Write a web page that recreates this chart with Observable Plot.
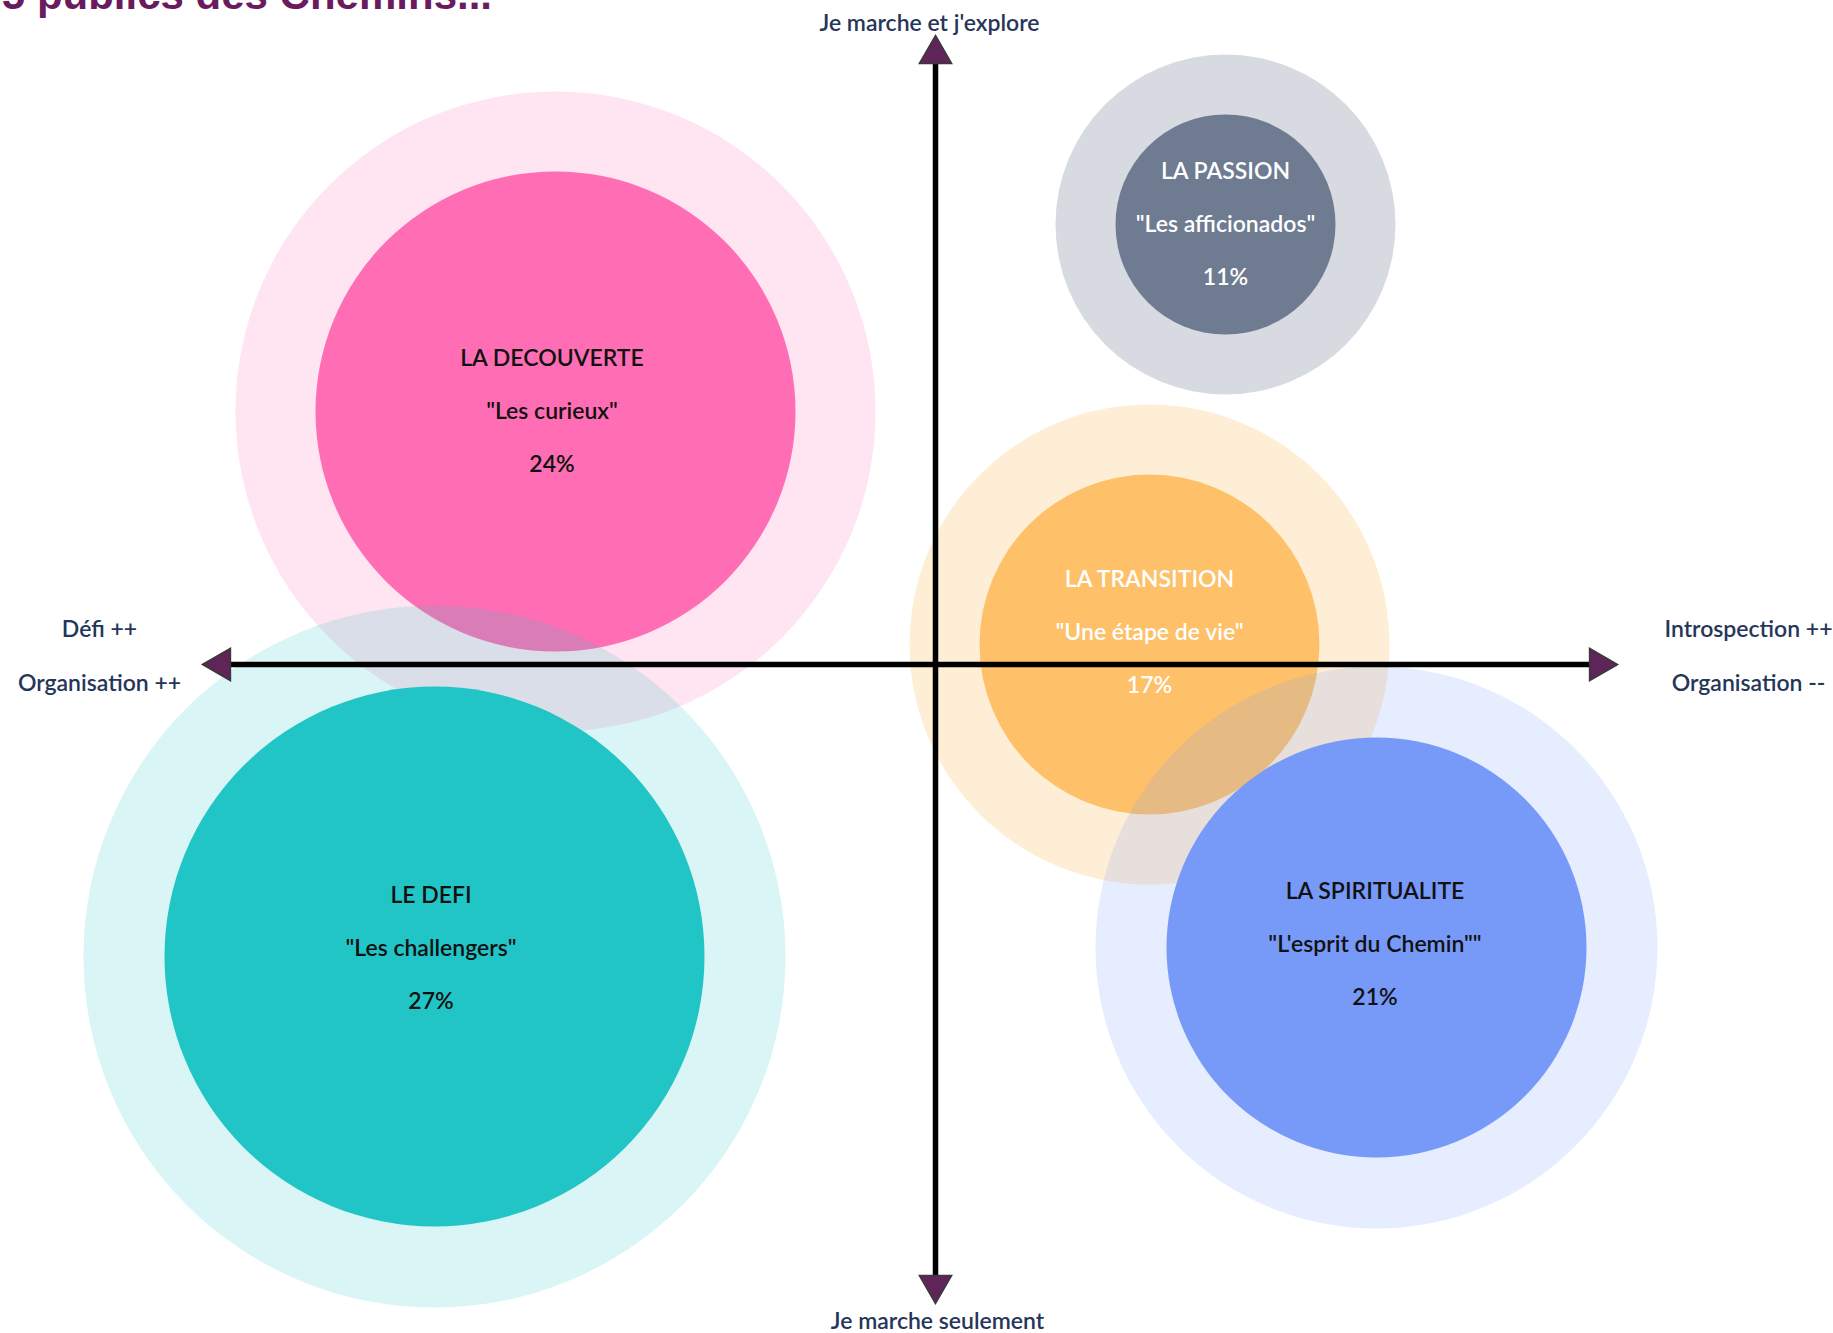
<!DOCTYPE html>
<html>
<head>
<meta charset="utf-8">
<script src="https://cdn.jsdelivr.net/npm/d3@7"></script>
<script src="https://cdn.jsdelivr.net/npm/@observablehq/plot@0.6"></script>
<style>
  html, body { margin: 0; padding: 0; background: #fff; overflow: hidden; }
  #wrap { position: relative; width: 1833px; height: 1333px; overflow: hidden; }
  #title { position: absolute; top: -26px; right: 1341px; white-space: nowrap;
           font: bold 42px "Liberation Sans", Arial, sans-serif; line-height: 42px; color: #6a1b5e; }
</style>
</head>
<body>
<div id="wrap">
  <div id="chart"></div>
  <div id="title">Les 5 publics des Chemins...</div>
</div>
<script>
// ---- data ----
const segments  = ["LA DECOUVERTE", "LE DEFI", "LA PASSION", "LA TRANSITION", "LA SPIRITUALITE"];
const nicknames = ['"Les curieux"', '"Les challengers"', '"Les afficionados"', '"Une étape de vie"', '"L\'esprit du Chemin""'];
const shares    = [24, 27, 11, 17, 21];          // % of walkers (inner bubble)
const halo      = [32, 35.1, 17, 24, 28.1];      // outer halo extent
const xScore    = [-38.0, -50.1, 29.0, 21.4, 44.1]; // Défi (−) … Introspection (+)
const yScore    = [25.3, -29.2, 44.0, 2.0, -28.3];  // Je marche seulement (−) … j'explore (+)
const xAxisEnds = [-73.3, 68.2];
const yAxisEnds = [-63.9, 62.9];
const leftLabels  = ["Défi ++", "Organisation ++"];
const rightLabels = ["Introspection ++", "Organisation --"];
const topLabel    = "Je marche et j'explore";
const bottomLabel = "Je marche seulement";

// ---- styles ----
const colors      = ["#ff6eb4", "#22c5c5", "#6e7b91", "#fec16a", "#7799f8"];
const haloOpacity = [0.19, 0.17, 0.28, 0.28, 0.18];
const textColors  = ["#111111", "#111111", "#ffffff", "#ffffff", "#111111"];
const labelDx     = [-3.5, -3.5, 0, 0, -1.5];
const labelDy     = [0, -8, 0, -12, -3];
const navy = "#26365a";
const arrowFill = "#5f2458";

const rows = segments.map((s, i) => ({name: s, nick: nicknames[i], pct: shares[i] + "%", x: xScore[i], y: yScore[i], tc: textColors[i], dx: labelDx[i], dy: labelDy[i]}));
const layers = segments.flatMap((s, i) => [
  {x: xScore[i], y: yScore[i], r: halo[i],   c: colors[i], o: haloOpacity[i]},
  {x: xScore[i], y: yScore[i], r: shares[i], c: colors[i], o: 1}
]);

const txt = {fontFamily: "Lato", fontSize: 23, fontWeight: 600};
const lineMarks = (key, off) => rows.map(d =>
  Plot.text([d], {x: "x", y: "y", text: key, dx: d.dx, dy: d.dy + off, fill: "tc", ...txt}));

const chart = Plot.plot({
  width: 1833, height: 1333,
  margin: 0,
  x: {domain: [-93.5, 89.8], axis: null},
  y: {domain: [-66.9, 66.4], axis: null},
  r: {type: "linear", domain: [0, 10], range: [0, 100]},
  opacity: {type: "identity"},
  color: {type: "identity"},
  style: {background: "white", fontFamily: "Lato"},
  marks: [
    Plot.dot(layers, {x: "x", y: "y", r: "r", fill: "c", fillOpacity: "o", sort: null}),
    ...lineMarks("name", -53),
    ...lineMarks("nick", 0),
    ...lineMarks("pct", 53),
    // axes
    Plot.ruleY([0], {x1: xAxisEnds[0], x2: xAxisEnds[1], stroke: "#000", strokeWidth: 5.5, insetLeft: 24, insetRight: 24}),
    Plot.ruleX([0], {y1: yAxisEnds[1], y2: yAxisEnds[0], stroke: "#000", strokeWidth: 5.5, insetTop: 24, insetBottom: 24}),
    Plot.dot([0], {x: xAxisEnds[0], y: 0, dx: 18.6, symbol: "triangle", rotate: -90, r: 12, fill: arrowFill, stroke: "#3a3a3a", strokeWidth: 1.5}),
    Plot.dot([0], {x: xAxisEnds[1], y: 0, dx: -18.6, symbol: "triangle", rotate: 90, r: 12, fill: arrowFill, stroke: "#3a3a3a", strokeWidth: 1.5}),
    Plot.dot([0], {x: 0, y: yAxisEnds[1], dy: 18.6, symbol: "triangle", rotate: 0, r: 12, fill: arrowFill, stroke: "#3a3a3a", strokeWidth: 1.5}),
    Plot.dot([0], {x: 0, y: yAxisEnds[0], dy: -18.6, symbol: "triangle", rotate: 180, r: 12, fill: arrowFill, stroke: "#3a3a3a", strokeWidth: 1.5}),
    // pole labels
    Plot.text([topLabel], {x: -0.6, y: 64.1, text: d => d, fill: navy, ...txt}),
    Plot.text([bottomLabel], {x: 0.2, y: -65.7, text: d => d, fill: navy, ...txt}),
    Plot.text(leftLabels, {x: -83.6, y: (d, i) => [3.5, -1.9][i], text: d => d, fill: navy, ...txt}),
    Plot.text(rightLabels, {x: 81.3, y: (d, i) => [3.5, -1.9][i], text: d => d, fill: navy, ...txt})
  ]
});
document.getElementById("chart").appendChild(chart);
</script>
</body>
</html>
